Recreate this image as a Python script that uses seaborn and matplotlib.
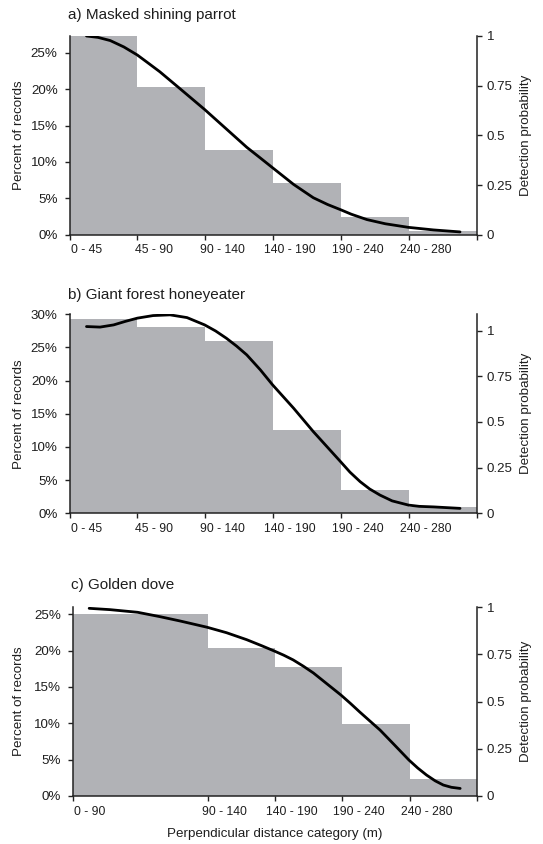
import numpy as np
import pandas as pd
import matplotlib
matplotlib.use("Agg")
import matplotlib.pyplot as plt
import seaborn as sns

# ---------------- data ----------------
titles = ["a) Masked shining parrot", "b) Giant forest honeyeater", "c) Golden dove"]

a_cats = ["0 - 45", "45 - 90", "90 - 140", "140 - 190", "190 - 240", "240 - 280"]
a_slots = [1, 1, 1, 1, 1, 1]
a_pct = [27.3, 20.3, 11.65, 7.1, 2.4, 0.45]
a_curve_x = [0.25, 0.42, 0.60, 0.80, 1.00, 1.15, 1.33, 1.63, 1.99, 2.31, 2.61, 2.81, 2.99,
             3.30, 3.59, 3.80, 3.99, 4.15, 4.38, 4.65, 4.99, 5.36, 5.75]
a_curve_p = [1.00, 0.993, 0.977, 0.945, 0.904, 0.866, 0.820, 0.734, 0.630, 0.532, 0.440, 0.386, 0.337,
             0.253, 0.186, 0.152, 0.126, 0.103, 0.076, 0.055, 0.037, 0.024, 0.014]

b_cats = ["0 - 45", "45 - 90", "90 - 140", "140 - 190", "190 - 240", "240 - 280"]
b_slots = [1, 1, 1, 1, 1, 1]
b_pct = [29.3, 28.1, 25.9, 12.55, 3.5, 0.95]
b_curve_x = [0.25, 0.45, 0.65, 0.82, 1.00, 1.23, 1.48, 1.73, 1.99, 2.15, 2.31, 2.46, 2.61, 2.81, 2.99,
             3.30, 3.59, 3.99, 4.13, 4.28, 4.42, 4.57, 4.75, 4.99, 5.15, 5.36, 5.75]
b_curve_p = [1.022, 1.019, 1.031, 1.050, 1.068, 1.082, 1.086, 1.071, 1.031, 0.998, 0.958, 0.915, 0.867, 0.785, 0.703,
             0.575, 0.447, 0.283, 0.225, 0.173, 0.133, 0.100, 0.068, 0.045, 0.038, 0.035, 0.027]

c_cats = ["0 - 90", "90 - 140", "140 - 190", "190 - 240", "240 - 280"]
c_slots = [2, 1, 1, 1, 1]
c_pct = [25.0, 20.3, 17.8, 9.85, 2.35]
c_curve_x = [0.24, 0.55, 0.96, 1.29, 1.59, 1.99, 2.28, 2.58, 2.81, 2.99, 3.13, 3.27, 3.42, 3.57,
             3.98, 4.12, 4.26, 4.56, 4.78, 4.99, 5.12, 5.25, 5.38, 5.50, 5.62, 5.75]
c_curve_p = [0.993, 0.986, 0.972, 0.949, 0.926, 0.893, 0.864, 0.827, 0.794, 0.767, 0.745, 0.720, 0.687, 0.651,
             0.534, 0.490, 0.444, 0.349, 0.268, 0.190, 0.148, 0.111, 0.080, 0.058, 0.046, 0.040]

left_max = [27.3, 30.0, 26.0]
right_max = [1.0, 1.089, 1.0]
left_ticks = [[0, 5, 10, 15, 20, 25], [0, 5, 10, 15, 20, 25, 30], [0, 5, 10, 15, 20, 25]]
right_ticks = [0, 0.25, 0.5, 0.75, 1]
right_labels = ["0", "0.25", "0.5", "0.75", "1"]

# ---------------- style ----------------
sns.set_style("ticks")
plt.rcParams["font.family"] = ["Liberation Sans", "DejaVu Sans"]
GRAY = "#b1b2b6"
TXT = "#1e1e1e"

W, H = 543, 844
fig = plt.figure(figsize=(W / 100, H / 100), dpi=100)

# axes boxes in pixels: left, right, top, bottom
boxes = [(69.5, 477, 36, 234.7), (69.5, 477, 314.3, 513.3), (73, 477, 607, 796)]
title_pos = [(68, 15), (68, 295), (71, 585)]

panels = [
    (a_cats, a_slots, a_pct, a_curve_x, a_curve_p),
    (b_cats, b_slots, b_pct, b_curve_x, b_curve_p),
    (c_cats, c_slots, c_pct, c_curve_x, c_curve_p),
]

for i, (cats, slots, pct, cx, cp) in enumerate(panels):
    l, r, t, b = boxes[i]
    ax = fig.add_axes([l / W, 1 - b / H, (r - l) / W, (b - t) / H])
    edges = np.concatenate([[0], np.cumsum(slots)]).astype(float)
    centers = (edges[:-1] + edges[1:]) / 2
    bars = pd.DataFrame({"pos": centers, "pct": pct})
    sns.histplot(data=bars, x="pos", weights="pct", bins=list(edges), ax=ax, color=GRAY,
                 alpha=1, linewidth=0, stat="count")
    ax.set_xlim(0, edges[-1])
    ax.set_ylim(0, left_max[i])
    ax.set_ylabel("")
    ax.set_xlabel("")
    ax.set_yticks(left_ticks[i])
    ax.set_yticklabels([f"{v}%" for v in left_ticks[i]], fontsize=9.6, color=TXT)
    ax.set_xticks(edges)
    ax.set_xticklabels([])
    ax.set_xticks(edges[:-1] + 0.25, minor=True)
    ax.set_xticklabels(cats, minor=True, fontsize=8.8, color=TXT)
    ax.tick_params(axis="x", which="major", direction="out", length=3.5, width=1, color="#222222")
    ax.tick_params(axis="x", which="minor", length=0, pad=7)
    ax.tick_params(axis="y", direction="out", length=3.5, width=1, color="#222222", pad=5)
    for s in ["top", "right"]:
        ax.spines[s].set_visible(False)
    for s in ["left", "bottom"]:
        ax.spines[s].set_color("#222222")
        ax.spines[s].set_linewidth(1.1)

    ax2 = ax.twinx()
    curve = pd.DataFrame({"x": cx, "p": cp})
    sns.lineplot(data=curve, x="x", y="p", ax=ax2, color="black", linewidth=2.0, sort=True)
    ax2.set_xlim(0, edges[-1])
    ax2.set_ylim(0, right_max[i])
    ax2.set_yticks(right_ticks)
    ax2.set_yticklabels(right_labels, fontsize=9.6, color=TXT)
    ax2.set_ylabel("")
    ax2.tick_params(axis="y", direction="out", length=3.5, width=1, color="#222222", pad=3.5)
    for s in ["top", "left", "bottom"]:
        ax2.spines[s].set_visible(False)
    ax2.spines["right"].set_color("#222222")
    ax2.spines["right"].set_linewidth(1.1)

    tx, ty = title_pos[i]
    fig.text(tx / W, 1 - ty / H, titles[i], fontsize=11, color=TXT, ha="left", va="center")
    fig.text(19 / W, 1 - ((t + b) / 2) / H, "Percent of records", rotation=90,
             fontsize=9.6, color=TXT, ha="center", va="center")
    fig.text(526.5 / W, 1 - ((t + b) / 2) / H, "Detection probability", rotation=90,
             fontsize=9.6, color=TXT, ha="center", va="center")

fig.text(275 / W, 1 - 834 / H, "Perpendicular distance category (m)", fontsize=9.6,
         color=TXT, ha="center", va="center")

fig.savefig("out.png", dpi=100)
